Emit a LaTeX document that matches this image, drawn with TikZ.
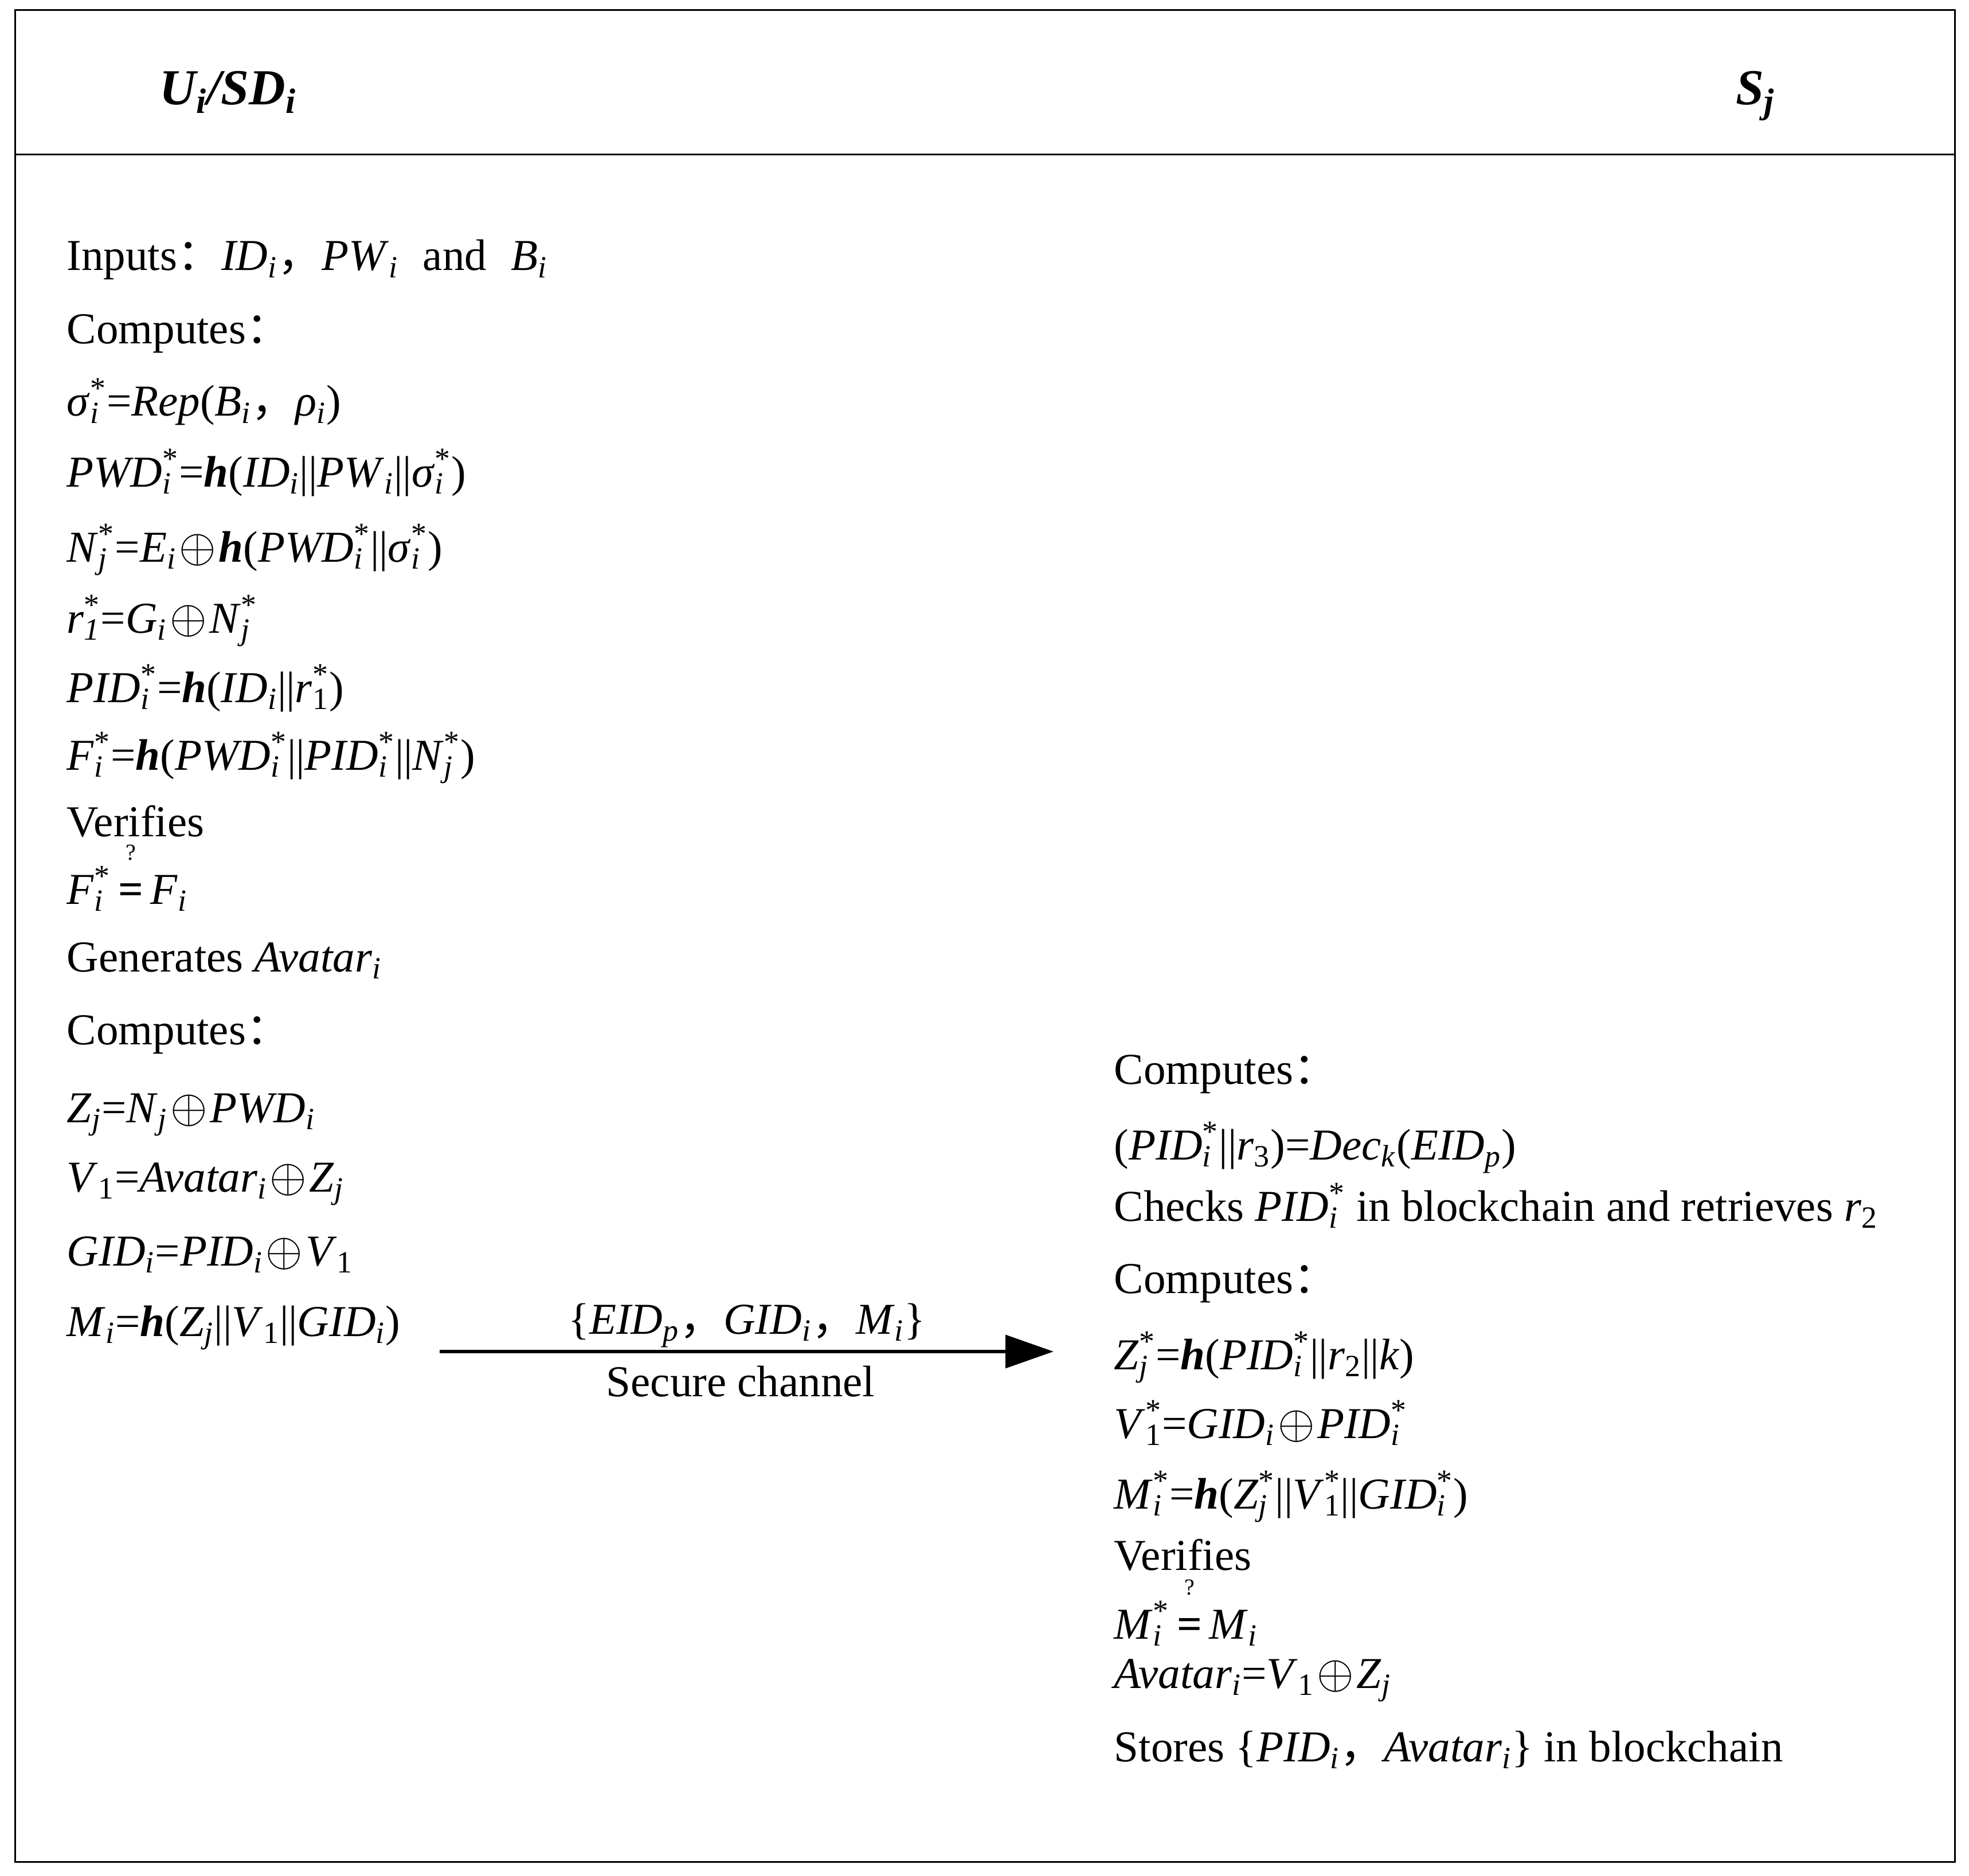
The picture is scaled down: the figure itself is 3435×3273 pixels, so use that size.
\documentclass[tikz,border=0pt]{standalone}
\usepackage{fontspec}
\setmainfont{Liberation Serif}
\newfontfamily\cjk{Noto Sans CJK SC}
\usetikzlibrary{arrows.meta}
\newcommand{\lo}[1]{\textsubscript{#1}}
\newcommand{\hi}[1]{\textsuperscript{#1}}
\newcommand{\both}[2]{\rlap{\textsubscript{#1}}\textsuperscript{#2}}
\newcommand{\xor}{\hspace{0.06em}$\oplus$\hspace{0.06em}}
\newcommand{\cat}{\textbar\textbar}
\newcommand{\hh}{\textbf{\textit{h}}}
\newcommand{\fc}{{\cjk ：}}
\newcommand{\fm}{{\cjk ，}}
\newcommand{\qeq}{\mbox{\setbox0\hbox{\textbf{=}}\rlap{\hbox to\wd0{\hss\raisebox{1.0em}{\fontsize{10}{10}\selectfont ?}\hss}}\box0}}
\tikzset{
  frame/.style={line width=0.75pt},
  txt/.style={anchor=base west, inner sep=0pt, font=\fontsize{19.25pt}{23pt}\selectfont},
  head/.style={anchor=base west, inner sep=0pt, font=\fontsize{22pt}{26pt}\selectfont\bfseries\itshape},
  lbl/.style={anchor=base, inner sep=0pt, font=\fontsize{19.25pt}{23pt}\selectfont},
  msg/.style={line width=1.7pt, -{Triangle[length=21pt,width=14.25pt]}}
}
\begin{document}
\begin{tikzpicture}[x=0.25pt,y=-0.25pt]
\useasboundingbox (0,0) rectangle (3435,3273);
% frame
\draw[frame] (26,18) rectangle (3410,3248);
\draw[frame] (26,270) -- (3410,270);
% header
\node[head] (hu) at (278,183) {U\lo{i}/SD\lo{i}};
\node[head] (hs) at (3028,183) {S\lo{j}};
% left column
\node[txt] (l1) at (116,472) {Inputs\fc\textit{ID}\lo{\textit{i}}\fm\textit{PW}\lo{\textit{i}}\hspace{0.3em} and \hspace{0.3em}\textit{B}\lo{\textit{i}}};
\node[txt] (l2) at (116,600) {Computes\fc};
\node[txt] (l3) at (116,726) {\textit{σ}\both{\textit{i}}{*}=\textit{Rep}(\textit{B}\lo{\textit{i}}\fm\textit{ρ}\lo{\textit{i}})};
\node[txt] (l4) at (116,849) {\textit{PWD}\both{\textit{i}}{*}=\hh(\textit{ID}\lo{\textit{i}}\cat\textit{PW}\lo{\textit{i}}\cat\textit{σ}\both{\textit{i}}{*})};
\node[txt] (l5) at (116,980) {\textit{N}\both{\textit{j}}{*}=\textit{E}\lo{\textit{i}}\xor\hh(\textit{PWD}\both{\textit{i}}{*}\cat\textit{σ}\both{\textit{i}}{*})};
\node[txt] (l6) at (116,1104) {\textit{r}\both{\textit{1}}{*}=\textit{G}\lo{\textit{i}}\xor\textit{N}\both{\textit{j}}{*}};
\node[txt] (l7) at (116,1225) {\textit{PID}\both{\textit{i}}{*}=\hh(\textit{ID}\lo{\textit{i}}\cat\textit{r}\both{1}{*})};
\node[txt] (l8) at (116,1343) {\textit{F}\both{\textit{i}}{*}=\hh(\textit{PWD}\both{\textit{i}}{*}\cat\textit{PID}\both{\textit{i}}{*}\cat\textit{N}\both{\textit{j}}{*})};
\node[txt] (l9) at (116,1459) {Verifies};
\node[txt] (l10) at (116,1577) {\textit{F}\both{\textit{i}}{*}\,\qeq\,\textit{F}\lo{\textit{i}}};
\node[txt] (l11) at (116,1695) {Generates \textit{Avatar}\lo{\textit{i}}};
\node[txt] (l12) at (116,1822) {Computes\fc};
\node[txt] (l13) at (116,1958) {\textit{Z}\lo{\textit{j}}=\textit{N}\lo{\textit{j}}\xor\textit{PWD}\lo{\textit{i}}};
\node[txt] (l14) at (116,2079) {\textit{V}\lo{1}=\textit{Avatar}\lo{\textit{i}}\xor\textit{Z}\lo{\textit{j}}};
\node[txt] (l15) at (116,2208) {\textit{GID}\lo{\textit{i}}=\textit{PID}\lo{\textit{i}}\xor\textit{V}\lo{1}};
\node[txt] (l16) at (116,2331) {\textit{M}\lo{\textit{i}}=\hh(\textit{Z}\lo{\textit{j}}\cat\textit{V}\lo{1}\cat\textit{GID}\lo{\textit{i}})};
% message
\coordinate (a0) at (767,2358);
\coordinate (a1) at (1838,2358);
\draw[msg] (a0) -- (a1);
\node[lbl] (m1) at (1303,2327) {\{\textit{EID}\lo{\textit{p}}\fm\textit{GID}\lo{\textit{i}}\fm\textit{M}\lo{\textit{i}}\}};
\node[lbl] (m2) at (1292,2436) {Secure channel};
% right column
\node[txt] (r1) at (1943,1891) {Computes\fc};
\node[txt] (r2) at (1943,2023) {(\textit{PID}\both{\textit{i}}{*}\cat\textit{r}\lo{3})=\textit{Dec}\lo{\textit{k}}(\textit{EID}\lo{\textit{p}})};
\node[txt] (r3) at (1943,2130) {Checks \textit{PID}\both{\textit{i}}{*} in blockchain and retrieves \textit{r}\lo{2}};
\node[txt] (r4) at (1943,2256) {Computes\fc};
\node[txt] (r5) at (1943,2389) {\textit{Z}\both{\textit{j}}{*}=\hh(\textit{PID}\both{\textit{i}}{*}\cat\textit{r}\lo{2}\cat\textit{k})};
\node[txt] (r6) at (1943,2509) {\textit{V}\both{1}{*}=\textit{GID}\lo{\textit{i}}\xor\textit{PID}\both{\textit{i}}{*}};
\node[txt] (r7) at (1943,2632) {\textit{M}\both{\textit{i}}{*}=\hh(\textit{Z}\both{\textit{j}}{*}\cat\textit{V}\both{1}{*}\cat\textit{GID}\both{\textit{i}}{*})};
\node[txt] (r8) at (1943,2739) {Verifies};
\node[txt] (r9) at (1943,2859) {\textit{M}\both{\textit{i}}{*}\,\qeq\,\textit{M}\lo{\textit{i}}};
\node[txt] (r10) at (1943,2945) {\textit{Avatar}\lo{\textit{i}}=\textit{V}\lo{1}\xor\textit{Z}\lo{\textit{j}}};
\node[txt] (r11) at (1943,3073) {Stores \{\textit{PID}\lo{\textit{i}}\fm\textit{Avatar}\lo{\textit{i}}\} in blockchain};
\end{tikzpicture}
\end{document}
